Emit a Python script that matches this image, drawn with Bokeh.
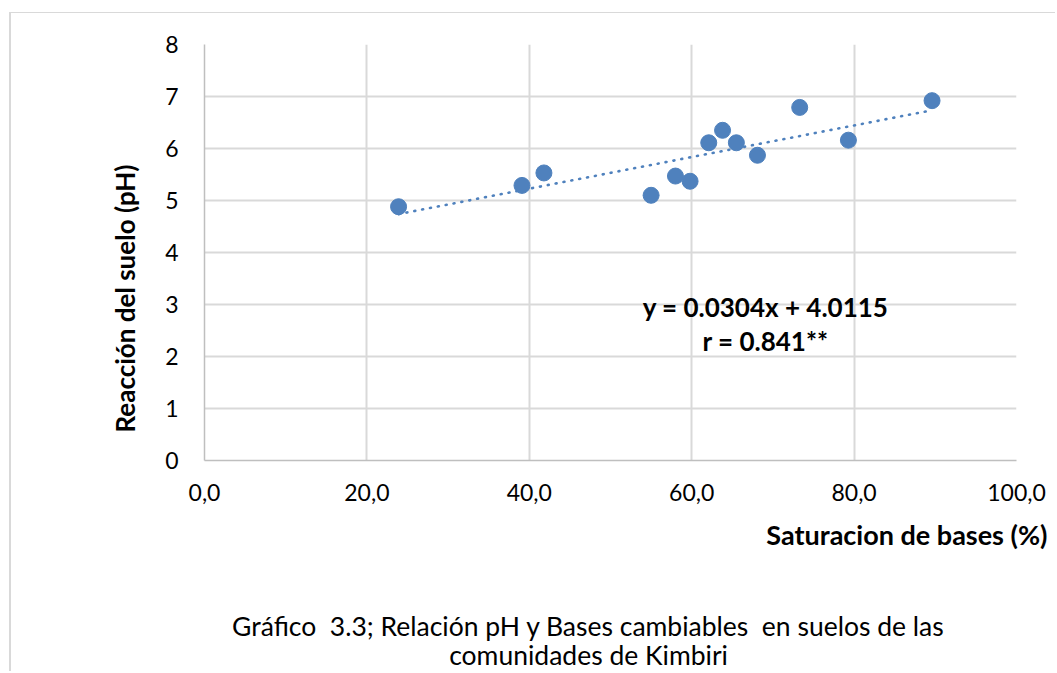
from bokeh.plotting import figure
from bokeh.layouts import column
from bokeh.models import Label, Range1d, FixedTicker, Title
from bokeh.embed import file_html
from bokeh.resources import INLINE

# Base saturation (%) and soil pH for the sampled communities
sat_bases = [23.9, 39.1, 41.8, 55.0, 58.0, 59.8, 62.1, 63.8, 65.5, 68.1, 73.3, 79.3, 89.6]
ph = [4.88, 5.29, 5.53, 5.10, 5.47, 5.37, 6.11, 6.35, 6.11, 5.87, 6.79, 6.16, 6.92]

# Linear fit reported for the series
slope = 0.0304
intercept = 4.0115
r_value = 0.841

x_ticks = [0, 20, 40, 60, 80, 100]
x_tick_labels = ["0,0", "20,0", "40,0", "60,0", "80,0", "100,0"]
y_ticks = [0, 1, 2, 3, 4, 5, 6, 7, 8]

caption_lines = [
    "Gráfico \u00a03.3; Relación pH y Bases cambiables \u00a0en suelos de las",
    "comunidades de Kimbiri",
]

FONT = "Lato"
BLUE = "#4f81bd"
GRID = "#d9d9d9"
FRAME_BORDER = "2px solid #d9d9d9"

p = figure(
    width=1046, height=586,
    x_range=Range1d(0, 100), y_range=Range1d(0, 8),
    output_backend="svg", toolbar_location=None,
    min_border_left=193, min_border_right=41,
    min_border_top=31, min_border_bottom=139,
    margin=(12, 0, 0, 9),
    styles={"border-left": FRAME_BORDER, "border-top": "1px solid #d9d9d9"},
)
p.outline_line_color = None
p.background_fill_color = "white"
p.border_fill_color = "white"

# axes
p.xaxis.ticker = FixedTicker(ticks=x_ticks)
p.yaxis.ticker = FixedTicker(ticks=y_ticks)
p.xaxis.major_label_overrides = {t: s for t, s in zip(x_ticks, x_tick_labels)}
for ax in (p.xaxis, p.yaxis):
    ax.axis_line_color = "#bfbfbf"
    ax.axis_line_width = 1.5
    ax.major_tick_line_color = None
    ax.minor_tick_line_color = None
    ax.major_label_text_font = FONT
    ax.major_label_text_font_size = "23px"
    ax.major_label_text_color = "black"
p.xaxis.major_label_standoff = 17
p.yaxis.major_label_standoff = 20

p.xgrid.ticker = FixedTicker(ticks=x_ticks)
p.ygrid.ticker = FixedTicker(ticks=y_ticks)
p.grid.grid_line_color = GRID
p.grid.grid_line_width = 2

# trend line over the observed range
x0, x1 = min(sat_bases), max(sat_bases)
p.line([x0, x1], [slope * x0 + intercept, slope * x1 + intercept],
       line_color=BLUE, line_width=2.6, line_dash="1 7", line_cap="round")

p.scatter(sat_bases, ph, size=16, fill_color=BLUE, line_color=BLUE, line_width=1)

# regression annotation inside the plot area
for yy, txt in ((2.96, f"y = {slope}x + {intercept}"), (2.29, f"r = {r_value}**")):
    p.add_layout(Label(
        x=69.1, y=yy, text=txt, text_font=FONT, text_font_size="26px",
        text_font_style="bold", text_align="center", text_baseline="middle",
        text_color="black",
    ))

# axis titles
p.add_layout(Title(text="Saturacion de bases (%)", align="right", offset=-31,
                   standoff=24, text_font=FONT, text_font_size="27px",
                   text_font_style="bold", text_color="black"), "below")
p.add_layout(Title(text="Reacción del suelo (pH)", align="left", offset=28,
                   standoff=44, text_font=FONT, text_font_size="26px",
                   text_font_style="bold", text_color="black"), "left")

# caption strip underneath the chart (its frame lines up with the chart's frame)
cap = figure(
    width=1046, height=73,
    x_range=Range1d(0, 100), y_range=Range1d(0, 73),
    x_axis_type=None, y_axis_type=None,
    output_backend="svg", toolbar_location=None,
    min_border=0, margin=(0, 0, 0, 9),
    styles={"border-left": FRAME_BORDER},
)
cap.outline_line_color = None
cap.grid.visible = False
for yy, txt in zip((46, 17), caption_lines):
    cap.add_layout(Label(
        x=47.3, y=yy, text=txt, text_font=FONT, text_font_size="26.5px",
        text_align="center", text_baseline="middle", text_color="black",
    ))

layout = column(p, cap, spacing=0)
open("out.html", "w").write(file_html(layout, INLINE))
